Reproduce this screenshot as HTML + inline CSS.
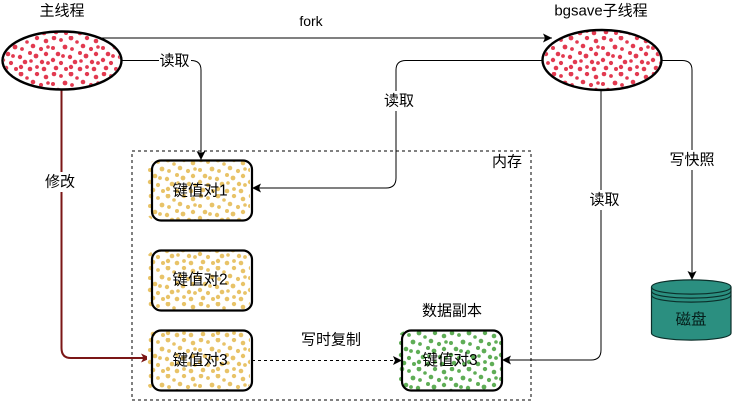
<!DOCTYPE html>
<html><head><meta charset="utf-8"><style>
html,body{margin:0;padding:0;background:#fff}
svg{display:block}
text{font-family:"Liberation Sans","Noto Sans CJK SC",sans-serif;font-size:15px;fill:#000;text-anchor:middle;dominant-baseline:central}
</style></head><body>
<svg width="732" height="401" viewBox="0 0 732 401" xmlns="http://www.w3.org/2000/svg">
<defs>
<g id="d">
<circle cx="4" cy="2" r="2.3"/><circle cx="11" cy="4" r="1.9"/><circle cx="21" cy="2" r="2.4"/><circle cx="27" cy="6" r="1.8"/><circle cx="37" cy="2" r="2.2"/><circle cx="46" cy="5" r="2.3"/>
<circle cx="3" cy="12" r="2"/><circle cx="15" cy="11" r="2.4"/><circle cx="22" cy="13" r="1.9"/><circle cx="33" cy="10" r="2.3"/><circle cx="41" cy="13" r="2.1"/><circle cx="48" cy="11" r="1.8"/>
<circle cx="8" cy="18" r="2.3"/><circle cx="13" cy="20" r="1.9"/><circle cx="20" cy="21" r="2.2"/><circle cx="30" cy="17" r="2"/><circle cx="36" cy="20" r="2.4"/><circle cx="46" cy="18" r="2.2"/>
<circle cx="3" cy="24" r="2.2"/><circle cx="11" cy="27" r="2.1"/><circle cx="25" cy="26" r="2.3"/><circle cx="31" cy="25" r="1.8"/><circle cx="42" cy="26" r="2.2"/><circle cx="48" cy="27" r="1.9"/>
<circle cx="6" cy="32" r="2.3"/><circle cx="16" cy="33" r="2"/><circle cx="21" cy="31" r="2.2"/><circle cx="30" cy="33" r="2.3"/><circle cx="37" cy="31" r="1.9"/><circle cx="44" cy="33" r="2.3"/>
</g>
<pattern id="pr" width="50" height="36" patternUnits="userSpaceOnUse"><use href="#d" fill="#e23a50"/></pattern>
<pattern id="py" width="50" height="36" patternUnits="userSpaceOnUse" patternTransform="translate(147 158)"><use href="#d" fill="#e8c368"/></pattern>
<pattern id="pg" width="50" height="36" patternUnits="userSpaceOnUse" patternTransform="translate(398 331)"><use href="#d" fill="#5fad56"/></pattern>
<marker id="a" markerUnits="userSpaceOnUse" markerWidth="11" markerHeight="11" refX="10" refY="5.5" orient="auto"><path d="M10,5.5 L1,1 L3,5.5 L1,10 Z" fill="#000"/></marker>
<marker id="ar" markerUnits="userSpaceOnUse" markerWidth="12" markerHeight="12" refX="11" refY="6" orient="auto"><path d="M11,6 L1,1.5 L3.5,6 L1,10.5 Z" fill="#7b1616"/></marker>
</defs>

<rect x="132" y="151" width="399" height="249" fill="none" stroke="#000" stroke-dasharray="3 3"/>

<path d="M100,38 H552" fill="none" stroke="#000" marker-end="url(#a)"/>
<path d="M122,60.5 H191 Q201,60.5 201,70 V160" fill="none" stroke="#000" marker-end="url(#a)"/>
<path d="M542,60.5 H406 Q396,60.5 396,70 V178 Q396,188 386,188 H252" fill="none" stroke="#000" marker-end="url(#a)"/>
<path d="M662,60.5 H682 Q692,60.5 692,70 V280" fill="none" stroke="#000" marker-end="url(#a)"/>
<path d="M601,90 V350 Q601,360 591,360 H502" fill="none" stroke="#000" marker-end="url(#a)"/>
<path d="M61.5,90 V348 Q61.5,358 71,358 H151" fill="none" stroke="#7b1616" stroke-width="2" marker-end="url(#ar)"/>
<path d="M252,360.5 H402" fill="none" stroke="#000" stroke-dasharray="3 3" marker-end="url(#a)"/>

<ellipse cx="62" cy="60.5" rx="59.5" ry="29.5" fill="#fff"/>
<ellipse cx="62" cy="60.5" rx="58" ry="28" fill="url(#pr)"/>
<ellipse cx="62" cy="60.5" rx="59.5" ry="29" fill="none" stroke="#000" stroke-width="2.4"/>
<ellipse cx="602" cy="60" rx="59.5" ry="30" fill="#fff"/>
<ellipse cx="602" cy="60" rx="58" ry="29" fill="url(#pr)"/>
<ellipse cx="602" cy="60" rx="59.5" ry="30" fill="none" stroke="#000" stroke-width="2.4"/>

<rect x="152" y="160.5" width="100" height="60" rx="9" fill="#fff"/>
<rect x="147" y="161" width="103" height="59" rx="8" fill="url(#py)"/>
<rect x="152" y="160.5" width="100" height="60" rx="9" fill="none" stroke="#000" stroke-width="2.2"/>
<rect x="147" y="251" width="103" height="59" rx="8" fill="url(#py)"/>
<rect x="152" y="250.5" width="100" height="60" rx="9" fill="none" stroke="#000" stroke-width="2.2"/>
<rect x="147" y="331" width="103" height="59" rx="8" fill="#fff"/>
<rect x="147" y="331" width="103" height="59" rx="8" fill="url(#py)"/>
<rect x="152" y="330.5" width="100" height="60" rx="9" fill="none" stroke="#000" stroke-width="2.2"/>
<rect x="398" y="331" width="103" height="59" rx="8" fill="url(#pg)"/>
<rect x="402" y="330.5" width="100" height="60" rx="9" fill="none" stroke="#000" stroke-width="2.2"/>

<path d="M651.5,287 C651.5,277.5 731,277.5 731,287 V333 C731,342.5 651.5,342.5 651.5,333 Z" fill="#2b8f80" stroke="#0b2f2a" stroke-width="1.2"/>
<path d="M651.5,287 C651.5,296.5 731,296.5 731,287 M651.5,291 C651.5,300.5 731,300.5 731,291 M651.5,295 C651.5,304.5 731,304.5 731,295" fill="none" stroke="#0b2f2a" stroke-width="1.2"/>

<rect x="159" y="51" width="32" height="19" fill="#fff"/>
<rect x="44" y="172" width="33" height="20" fill="#fff"/>
<rect x="383" y="91" width="33" height="20" fill="#fff"/>
<rect x="588" y="190" width="33" height="20" fill="#fff"/>
<rect x="668" y="150" width="48" height="20" fill="#fff"/>

<text x="62" y="11">主线程</text>
<text x="601" y="11">bgsave子线程</text>
<text x="311" y="21" style="font-size:14px">fork</text>
<text x="174.5" y="61">读取</text>
<text x="60" y="182">修改</text>
<text x="399" y="101">读取</text>
<text x="604.5" y="200">读取</text>
<text x="692" y="160">写快照</text>
<text x="507" y="162">内存</text>
<text x="200" y="191" style="font-size:15.5px">键值对1</text>
<text x="200" y="280" style="font-size:15.5px">键值对2</text>
<text x="200" y="360.5" style="font-size:15.5px">键值对3</text>
<text x="331" y="340">写时复制</text>
<text x="452" y="311">数据副本</text>
<text x="450" y="360.5" style="font-size:15.5px">键值对3</text>
<text x="691" y="320" style="font-size:15.5px;fill:#06201c">磁盘</text>
</svg>
</body></html>
